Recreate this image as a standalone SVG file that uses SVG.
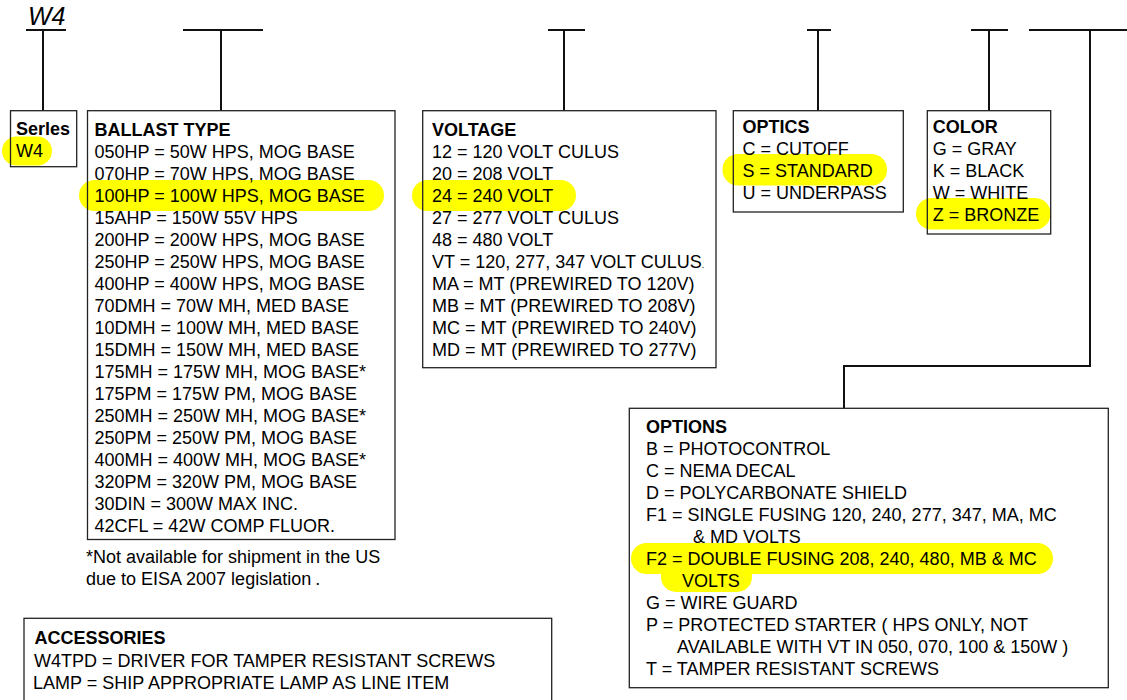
<svg xmlns="http://www.w3.org/2000/svg" width="1127" height="700" viewBox="0 0 1127 700">
<style>
  text { font-family: "Liberation Sans", Arial, sans-serif; font-size: 18px; fill: #000; }
  .b { font-weight: bold; }
  .box { fill: none; stroke: #222; stroke-width: 1.3; }
  .hl { fill: #FFFF00; stroke: none; }
  .conn { fill: none; stroke: #111; stroke-width: 2; }
</style>
<rect width="1127" height="700" fill="#fff"/>

<text x="28" y="25" style="font-style:italic;font-size:25px">W4</text>

<g id="connectors">
  <path class="conn" d="M26 30H66M43 30V111"/>
  <path class="conn" d="M183 30H263M221 30V111"/>
  <path class="conn" d="M548 30H585M564 30V111"/>
  <path class="conn" d="M807 30H831M818 30V111"/>
  <path class="conn" d="M971 30H1008M989 30V111"/>
  <path class="conn" d="M1029 30H1127M1090 30V366H844V408"/>
</g>

<g id="highlights">
  <rect class="hl" x="2" y="136.5" width="50" height="29" rx="14.5"/>
  <rect class="hl" x="79" y="180" width="305" height="31" rx="15.5"/>
  <rect class="hl" x="412" y="180" width="164" height="31" rx="15.5"/>
  <rect class="hl" x="722.5" y="154" width="164.5" height="31.5" rx="15.5"/>
  <rect class="hl" x="916" y="198" width="134.5" height="31.5" rx="15.5"/>
  <rect class="hl" x="631" y="543" width="422" height="31" rx="15.5"/>
  <rect class="hl" x="661" y="560" width="91" height="32" rx="15"/>
</g>

<g id="series">
  <rect class="box" x="10.5" y="110.7" width="66.2" height="56"/>
  <text class="b" x="16" y="135">Serles</text>
  <text x="16" y="157">W4</text>
</g>

<g id="ballast">
  <rect class="box" x="87.5" y="110.7" width="307.5" height="428.8"/>
  <text class="b" x="94.5" y="136">BALLAST TYPE</text>
  <text x="94.5" y="158">050HP = 50W HPS, MOG BASE</text>
  <text x="94.5" y="180">070HP = 70W HPS, MOG BASE</text>
  <text x="94.5" y="202">100HP = 100W HPS, MOG BASE</text>
  <text x="94.5" y="224">15AHP = 150W 55V HPS</text>
  <text x="94.5" y="246">200HP = 200W HPS, MOG BASE</text>
  <text x="94.5" y="268">250HP = 250W HPS, MOG BASE</text>
  <text x="94.5" y="290">400HP = 400W HPS, MOG BASE</text>
  <text x="94.5" y="312">70DMH = 70W MH, MED BASE</text>
  <text x="94.5" y="334">10DMH = 100W MH, MED BASE</text>
  <text x="94.5" y="356">15DMH = 150W MH, MED BASE</text>
  <text x="94.5" y="378">175MH = 175W MH, MOG BASE*</text>
  <text x="94.5" y="400">175PM = 175W PM, MOG BASE</text>
  <text x="94.5" y="422">250MH = 250W MH, MOG BASE*</text>
  <text x="94.5" y="444">250PM = 250W PM, MOG BASE</text>
  <text x="94.5" y="466">400MH = 400W MH, MOG BASE*</text>
  <text x="94.5" y="488">320PM = 320W PM, MOG BASE</text>
  <text x="94.5" y="510">30DIN = 300W MAX INC.</text>
  <text x="94.5" y="532">42CFL = 42W COMP FLUOR.</text>
</g>

<g id="footnote">
  <text x="86" y="563">*Not available for shipment in the US</text>
  <text x="86" y="585">due to EISA 2007 legislation<tspan dx="4">.</tspan></text>
</g>

<g id="voltage">
  <rect class="box" x="422.7" y="110.7" width="293.3" height="257"/>
  <text class="b" x="432" y="136">VOLTAGE</text>
  <text x="432" y="158">12 = 120 VOLT CULUS</text>
  <text x="432" y="180">20 = 208 VOLT</text>
  <text x="432" y="202">24 = 240 VOLT</text>
  <text x="432" y="224">27 = 277 VOLT CULUS</text>
  <text x="432" y="246">48 = 480 VOLT</text>
  <text x="432" y="268">VT = 120, 277, 347 VOLT CULUS<tspan style="font-size:9px">.</tspan></text>
  <text x="432" y="290">MA = MT (PREWIRED TO 120V)</text>
  <text x="432" y="312">MB = MT (PREWIRED TO 208V)</text>
  <text x="432" y="334">MC = MT (PREWIRED TO 240V)</text>
  <text x="432" y="356">MD = MT (PREWIRED TO 277V)</text>
</g>

<g id="optics">
  <rect class="box" x="733.3" y="110.7" width="170" height="101.3"/>
  <text class="b" x="742.5" y="133">OPTICS</text>
  <text x="742.5" y="155">C = CUTOFF</text>
  <text x="742.5" y="177">S = STANDARD</text>
  <text x="742.5" y="199">U = UNDERPASS</text>
</g>

<g id="color">
  <rect class="box" x="927.3" y="110.7" width="123.4" height="123.3"/>
  <text class="b" x="932.7" y="133">COLOR</text>
  <text x="932.7" y="155">G = GRAY</text>
  <text x="932.7" y="177">K = BLACK</text>
  <text x="932.7" y="199">W = WHITE</text>
  <text x="932.7" y="221">Z = BRONZE</text>
</g>

<g id="options">
  <rect class="box" x="629.3" y="408.3" width="479" height="279.4"/>
  <text class="b" x="646" y="433">OPTIONS</text>
  <text x="646" y="455">B = PHOTOCONTROL</text>
  <text x="646" y="477">C = NEMA DECAL</text>
  <text x="646" y="499">D = POLYCARBONATE SHIELD</text>
  <text x="646" y="521">F1 = SINGLE FUSING 120, 240, 277, 347, MA, MC</text>
  <text x="693" y="543">&amp; MD VOLTS</text>
  <text x="646" y="565">F2 = DOUBLE FUSING 208, 240, 480, MB &amp; MC</text>
  <text x="682" y="587">VOLTS</text>
  <text x="646" y="609">G = WIRE GUARD</text>
  <text x="646" y="631">P = PROTECTED STARTER ( HPS ONLY, NOT</text>
  <text x="677" y="653">AVAILABLE WITH VT IN 050, 070, 100 &amp; 150W )</text>
  <text x="646" y="675">T = TAMPER RESISTANT SCREWS</text>
</g>

<g id="accessories">
  <rect class="box" x="24" y="618.3" width="527.7" height="90"/>
  <text class="b" x="34.5" y="644">ACCESSORIES</text>
  <text x="34" y="666.5">W4TPD = DRIVER FOR TAMPER RESISTANT SCREWS</text>
  <text x="33" y="689">LAMP = SHIP APPROPRIATE LAMP AS LINE ITEM</text>
</g>
</svg>
